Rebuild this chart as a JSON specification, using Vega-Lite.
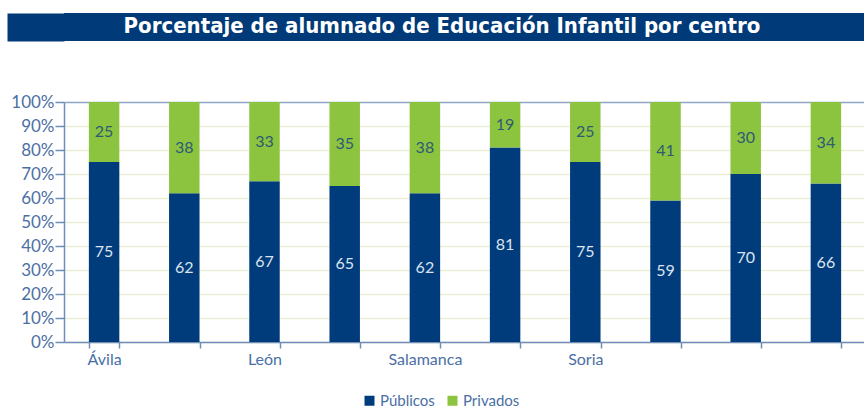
{
  "$schema": "https://vega.github.io/schema/vega-lite/v6.json",
  "padding": {"left": 10, "top": 13, "right": 0, "bottom": 0},
  "background": "white",
  "datasets": {
    "titulo": [{"t": "Porcentaje de alumnado de Educación Infantil por centro"}],
    "datos": [
      {"provincia": "Ávila", "tipo": "Públicos", "valor": 75},
      {"provincia": "Ávila", "tipo": "Privados", "valor": 25},
      {"provincia": "Burgos", "tipo": "Públicos", "valor": 62},
      {"provincia": "Burgos", "tipo": "Privados", "valor": 38},
      {"provincia": "León", "tipo": "Públicos", "valor": 67},
      {"provincia": "León", "tipo": "Privados", "valor": 33},
      {"provincia": "Palencia", "tipo": "Públicos", "valor": 65},
      {"provincia": "Palencia", "tipo": "Privados", "valor": 35},
      {"provincia": "Salamanca", "tipo": "Públicos", "valor": 62},
      {"provincia": "Salamanca", "tipo": "Privados", "valor": 38},
      {"provincia": "Segovia", "tipo": "Públicos", "valor": 81},
      {"provincia": "Segovia", "tipo": "Privados", "valor": 19},
      {"provincia": "Soria", "tipo": "Públicos", "valor": 75},
      {"provincia": "Soria", "tipo": "Privados", "valor": 25},
      {"provincia": "Valladolid", "tipo": "Públicos", "valor": 59},
      {"provincia": "Valladolid", "tipo": "Privados", "valor": 41},
      {"provincia": "Zamora", "tipo": "Públicos", "valor": 70},
      {"provincia": "Zamora", "tipo": "Privados", "valor": 30},
      {"provincia": "Castilla y León", "tipo": "Públicos", "valor": 66},
      {"provincia": "Castilla y León", "tipo": "Privados", "valor": 34}
    ]
  },
  "concat": [
    {
      "width": 802,
      "height": 28,
      "view": {"fill": "#003A78", "stroke": null},
      "data": {"name": "titulo"},
      "mark": {"type": "text", "font": "DejaVu Sans Condensed", "fontWeight": "bold", "fontSize": 22, "color": "white", "baseline": "middle", "align": "center", "dx": -23, "dy": -1},
      "encoding": {
        "text": {"field": "t", "type": "nominal"},
        "y": {
          "field": "t",
          "type": "nominal",
          "axis": {
            "title": null,
            "labels": false,
            "ticks": false,
            "grid": false,
            "domain": true,
            "domainColor": "#003A78",
            "domainWidth": 57,
            "offset": 28.5
          }
        }
      }
    },
    {
      "width": 802,
      "height": 240,
      "data": {"name": "datos"},
      "encoding": {
        "x": {
          "field": "provincia",
          "type": "nominal",
          "sort": null,
          "scale": {"paddingInner": 0.62, "paddingOuter": 0.31},
          "axis": {
            "title": null,
            "labelAngle": 0,
            "tickBand": "extent",
            "tickSize": 6,
            "grid": false,
            "labelPadding": 3,
            "labelFontSize": 16,
            "labelExpr": "indexof(['Ávila','León','Salamanca','Soria'], datum.value) >= 0 ? datum.label : ''"
          }
        }
      },
      "layer": [
        {
          "mark": {"type": "bar"},
          "encoding": {
            "y": {
              "field": "valor",
              "type": "quantitative",
              "stack": "zero",
              "scale": {"domain": [0, 100]},
              "axis": {
                "title": null,
                "values": [0, 10, 20, 30, 40, 50, 60, 70, 80, 90, 100],
                "labelExpr": "datum.value + '%'",
                "labelOverlap": false,
                "labelFontSize": 17,
                "tickSize": 9,
                "labelPadding": 1,
                "grid": true,
                "gridColor": {"condition": {"test": "datum.value === 100", "value": "#8FA5C6"}, "value": "#EAEFD6"},
                "gridWidth": 1.5
              }
            },
            "color": {
              "field": "tipo",
              "type": "nominal",
              "scale": {"domain": ["Públicos", "Privados"], "range": ["#003C7C", "#8CC43F"]},
              "legend": {
                "title": null,
                "orient": "none",
                "legendX": 298,
                "legendY": 291,
                "direction": "horizontal",
                "symbolType": "square",
                "symbolSize": 100,
                "symbolStrokeWidth": 0,
                "labelFont": "Lato",
                "labelFontSize": 15,
                "labelColor": "#4A6FA5",
                "labelOffset": 3,
                "columnPadding": 10
              }
            },
            "order": {"field": "tipo", "sort": "descending"}
          }
        },
        {
          "mark": {"type": "text", "font": "Lato", "fontSize": 16, "baseline": "middle"},
          "encoding": {
            "y": {
              "field": "valor",
              "type": "quantitative",
              "stack": "zero",
              "bandPosition": 0.5,
              "scale": {"domain": [0, 100]},
              "axis": {
                "title": null,
                "values": [0, 10, 20, 30, 40, 50, 60, 70, 80, 90, 100],
                "labelExpr": "datum.value + '%'",
                "labelOverlap": false,
                "labelFontSize": 17,
                "tickSize": 9,
                "labelPadding": 1,
                "grid": true,
                "gridColor": {"condition": {"test": "datum.value === 100", "value": "#8FA5C6"}, "value": "#EAEFD6"},
                "gridWidth": 1.5
              }
            },
            "detail": {"field": "tipo"},
            "order": {"field": "tipo", "sort": "descending"},
            "text": {"field": "valor", "type": "quantitative"},
            "color": {"condition": {"test": "datum.tipo === 'Públicos'", "value": "#DCE5EF"}, "value": "#2E5B74"}
          }
        }
      ],
      "resolve": {"scale": {"color": "independent"}}
    }
  ],
  "columns": 1,
  "spacing": 52,
  "resolve": {"scale": {"color": "independent"}},
  "config": {
    "view": {"stroke": null},
    "axis": {
      "labelFont": "Lato",
      "labelColor": "#4A6FA5",
      "domainColor": "#6F8DB8",
      "domainWidth": 1.5,
      "tickColor": "#6F8DB8",
      "tickWidth": 1.5
    }
  }
}
